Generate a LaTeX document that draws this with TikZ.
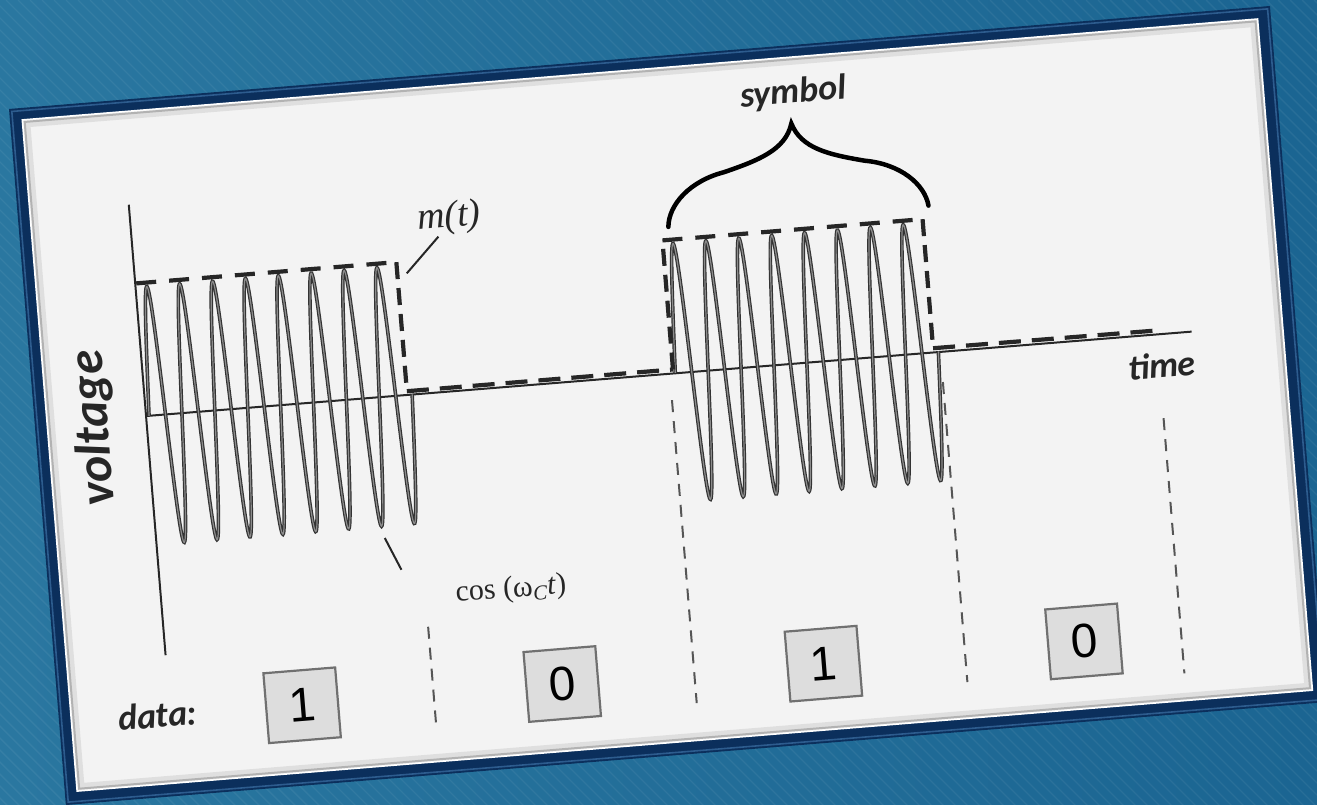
\documentclass[tikz,border=0pt]{standalone}
\usepackage{fontspec}
\setmainfont{Liberation Serif}
\newfontfamily\calfont{Carlito}
\newfontfamily\arialfont{Liberation Sans}
\definecolor{bgA}{HTML}{2A77A0}
\definecolor{bgB}{HTML}{1B6592}
\definecolor{framecol}{HTML}{0B2F5C}
\definecolor{framehi}{HTML}{2D5C8E}
\definecolor{paper}{HTML}{F3F3F3}
\definecolor{ink}{HTML}{262626}
\definecolor{wavecol}{HTML}{333333}
\definecolor{wavecore}{HTML}{8C8C8C}
\definecolor{sepgray}{HTML}{555555}
\definecolor{boxfill}{HTML}{DDDDDD}
\definecolor{boxline}{HTML}{707070}
\tikzset{
  axisline/.style={draw=ink, line width=2},
  envline/.style={draw=ink, line width=4.2},
  carrier/.style={draw=wavecol, line width=1.2, double=wavecore, double distance=1.2},
  sepline/.style={draw=sepgray, line width=2, dash pattern=on 12 off 9},
  lab/.style={text=ink, inner sep=0, font=\calfont\bfseries\itshape\fontsize{36}{40}\selectfont},
  seriflab/.style={text=ink, inner sep=0},
  databox/.style={draw=boxline, fill=boxfill, line width=2.2, minimum width=72, minimum height=70, inner sep=0, text=black, font=\arialfont\fontsize{48}{50}\selectfont},
  leader/.style={draw=ink, line width=2},
  bracestyle/.style={draw=black, line width=4.5, line cap=round}
}
\begin{document}
\begin{tikzpicture}[x=1pt,y=-1pt]
\useasboundingbox (0,0) rectangle (1317,804);
\clip (0,0) rectangle (1317,804);
\shade[left color=bgA, right color=bgB] (0,0) rectangle (1317,804);
\foreach \k in {-810,-798,...,1320} \draw[white, opacity=0.06, line width=1.4] (\k,0) -- ++(810,810);
\begin{scope}[shift={(667.9,405.5)}, rotate=4.67, transform shape]
  % card
  \fill[framecol] (-632.6,-349.2) rectangle (632.6,349.2);
  \draw[framehi, line width=1.6] (-630,-346.5) rectangle (630,346.5);
  \fill[white] (-621,-338) rectangle (620,337);
  \fill[paper] (-619,-336) rectangle (618,335);
  \draw[black, opacity=0.08, line width=7] (-616,-333) rectangle (615,332);
  \draw[black, opacity=0.2, line width=2] (-618,-335) rectangle (617,334);
  % axes
  \draw[axisline] (-521,-244) -- (-521,208);
  \draw[axisline] (-521,-32) -- (528,-31);
  % carriers
  \draw[carrier] plot[domain=0:264, samples=500] ({-518+\x}, {-32-129*sin(10.90909*\x)});
  \draw[carrier] plot[domain=0:264, samples=500] ({10+\x}, {-32-129*sin(10.90909*\x)});
  % envelope m(t)
  \draw[envline, dash pattern=on 20 off 13] (-520,-165) -- (-259,-165);
  \draw[envline, dash pattern=on 17 off 9] (-259,-165) -- (-259,-35.5);
  \draw[envline, dash pattern=on 22 off 11] (-259,-35.5) -- (8,-35.5);
  \draw[envline, dash pattern=on 17 off 9] (8,-35.5) -- (8,-165);
  \draw[envline, dash pattern=on 20 off 13] (8,-165) -- (269,-165);
  \draw[envline, dash pattern=on 17 off 9] (269,-165) -- (269,-35.5);
  \draw[envline, dash pattern=on 22 off 11] (269,-35.5) -- (493,-35);
  % separators
  \draw[sepline] (-257,201) -- (-257,298);
  \draw[sepline] (4.5,-5) -- (4.5,299);
  \draw[sepline] (276,-1) -- (276,300);
  \draw[sepline] (493,53) -- (493,309);
  % brace
  \draw[bracestyle] (15,-178) .. controls (17,-200) and (40,-222) .. (75,-228)
     .. controls (110,-237) and (138,-245) .. (146,-271)
     .. controls (154,-245) and (181,-237) .. (216,-228)
     .. controls (251,-222) and (274,-200) .. (276,-178);
  % labels
  \node[lab] (timelab) at (495.5,0) {time};
  \node[lab, rotate=90, font=\calfont\bfseries\itshape\fontsize{50}{54}\selectfont] (voltlab) at (-573,-24) {voltage};
  \node[lab] (datalab) at (-534,267) {data:};
  \node[lab] (symlab) at (150.4,-301) {symbol};
  \node[seriflab, font=\itshape\fontsize{38}{40}\selectfont] (mtlab) at (-203,-205) {m(t)};
  \node[seriflab, font=\fontsize{30}{32}\selectfont] (coslab) at (-171.4,171.1) {cos (ω\textsubscript{\itshape C}\textit{t})};
  \coordinate (mtA) at (-249.5,-153);
  \coordinate (mtB) at (-215,-187);
  \draw[leader] (mtA) -- (mtB);
  \coordinate (cosA) at (-293,109);
  \coordinate (cosB) at (-279,142);
  \draw[leader] (cosA) -- (cosB);
  % data boxes
  \node[databox] (d1) at (-389,269) {1};
  \node[databox] (d2) at (-128,269) {0};
  \node[databox] (d3) at (134,270) {1};
  \node[databox] (d4) at (395.5,269) {0};
\end{scope}
\end{tikzpicture}
\end{document}
